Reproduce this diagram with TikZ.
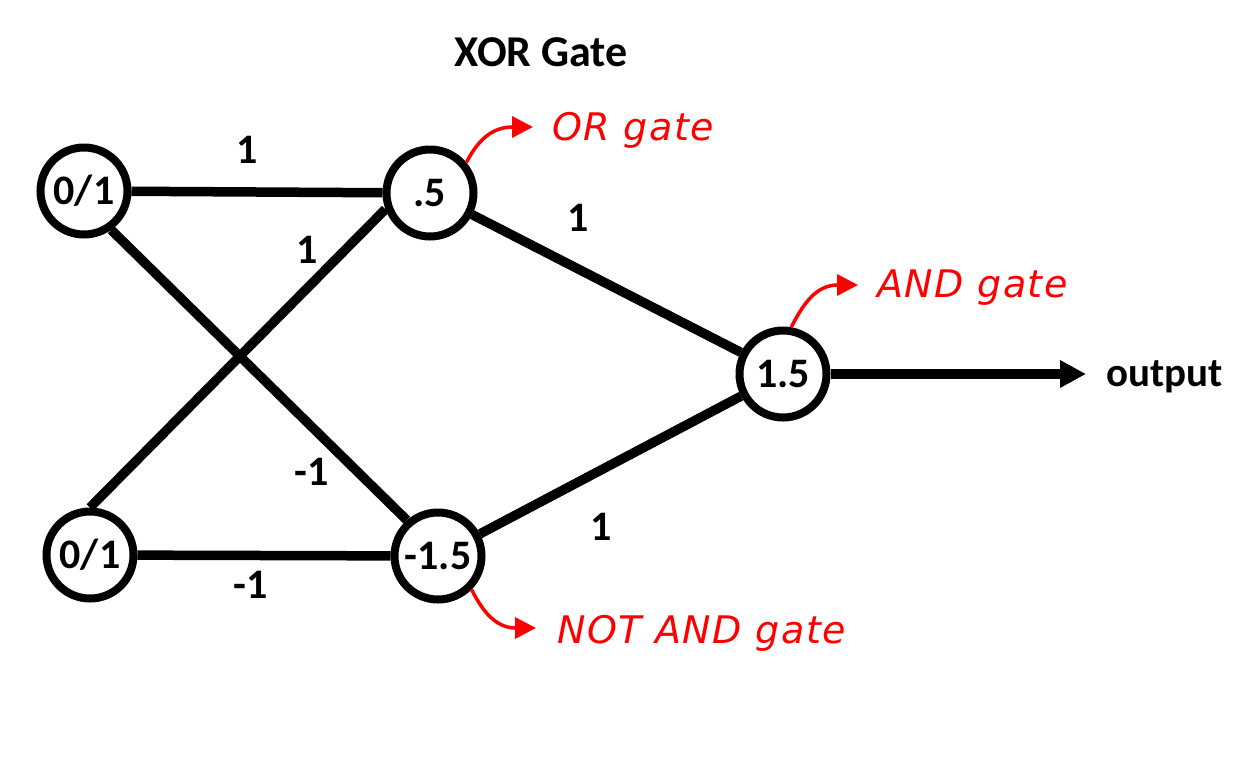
\documentclass[tikz,border=0pt]{standalone}
\usepackage{fontspec}
\setmainfont{Carlito}
\newfontfamily\handfont{DejaVu Sans}[LetterSpace=4]
\usetikzlibrary{arrows.meta}
\begin{document}
\begin{tikzpicture}[x=1pt,y=-1pt,
  neuron/.style={circle,draw,line width=8pt,minimum size=87pt,inner sep=0pt,
    font=\fontsize{42}{42}\selectfont\bfseries},
  wire/.style={line width=9.5pt},
  wlabel/.style={font=\fontsize{42}{42}\selectfont\bfseries},
  note/.style={red,line width=3.5pt,-{Triangle[length=21pt,width=21pt]}},
  notetext/.style={red,font=\fontsize{38}{38}\selectfont\handfont\itshape,anchor=base west,inner sep=0pt}]
\useasboundingbox[fill=white] (0,0) rectangle (1260,769);

\node[font=\fontsize{44}{44}\selectfont\bfseries] (title) at (541,52) {XOR Gate};

\node[neuron] (i1) at (84,191) {0/1};
\node[neuron] (i2) at (90,555) {0/1};
\node[neuron] (h1) at (430,193) {.5};
\node[neuron] (h2) at (438,556) {-1.5};
\node[neuron] (o) at (783,374) {1.5};
\coordinate (tip) at (1086,374);
\node[font=\fontsize{41}{41}\selectfont\bfseries,anchor=west,inner sep=0pt] (out) at (1106,377) {output};

\draw[wire] (i1) -- (h1);
\draw[wire] (i1.-55) -- (h2.131);
\draw[wire] (i2.90) -- (h1.200);
\draw[wire] (i2) -- (h2);
\draw[wire] (h1) -- (o);
\draw[wire] (h2) -- (o);
\draw[wire,-{Triangle[length=26pt,width=26pt]}] (o) -- (tip);

\node[wlabel] (l1) at (247,150) {1};
\node[wlabel] (l2) at (307,250) {1};
\node[wlabel] (l3) at (312,472) {-1};
\node[wlabel] (l4) at (251,585) {-1};
\node[wlabel] (l5) at (578,218) {1};
\node[wlabel] (l6) at (601,527) {1};

\node[notetext] (n1) at (552,140) {OR gate};
\node[notetext] (n2) at (877,297) {AND gate};
\node[notetext] (n3) at (557,643) {NOT AND gate};

\coordinate (a1) at (533,127);
\coordinate (a2) at (858,285);
\coordinate (a3) at (536,628);
\draw[note] (h1.40) .. controls (478,140) and (492,127) .. (a1);
\draw[note] (o.80) .. controls (805,300) and (818,285) .. (a2);
\draw[note] (h2.-45) .. controls (482,610) and (495,628) .. (a3);
\end{tikzpicture}
\end{document}
